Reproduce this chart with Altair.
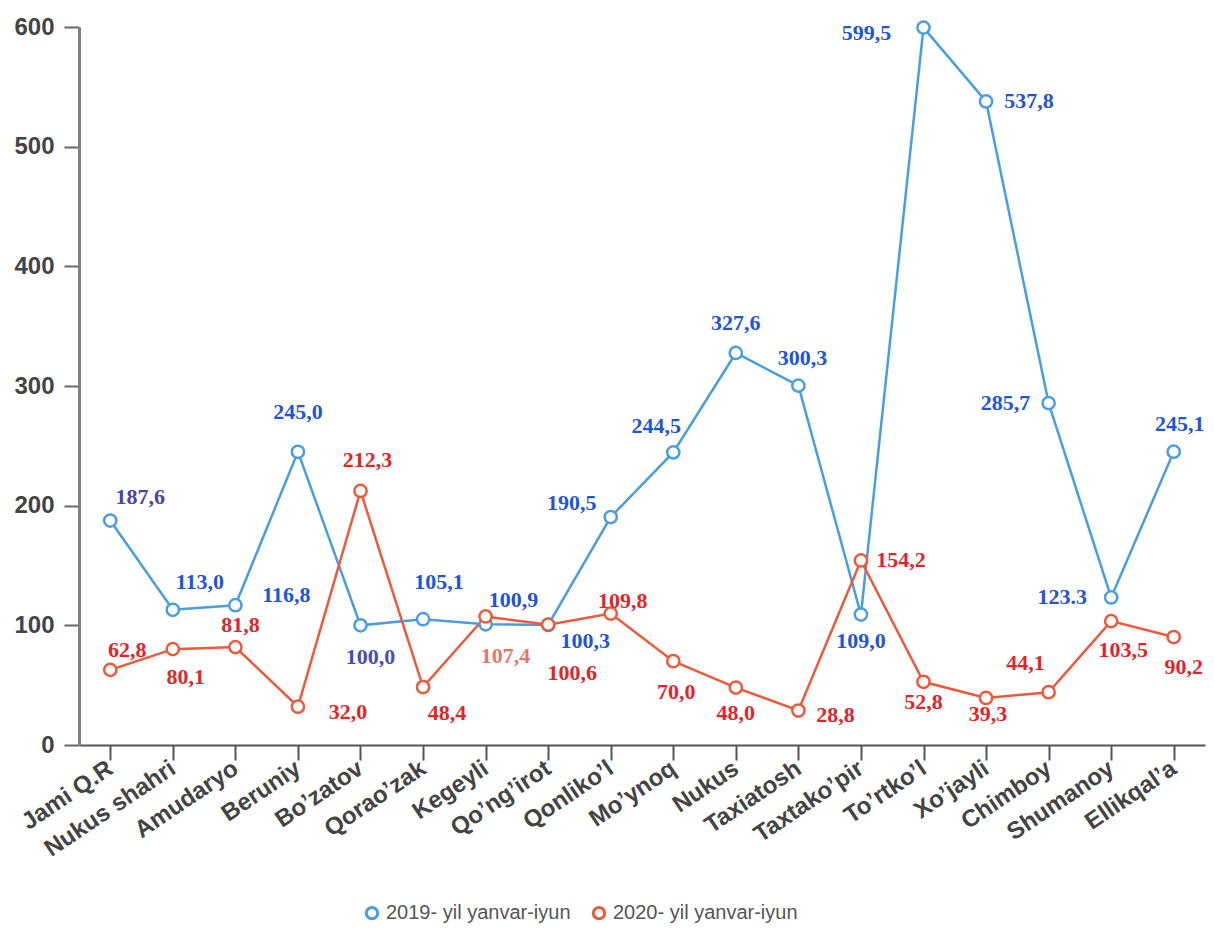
import altair as alt
import pandas as pd

categories = ["Jami Q.R", "Nukus shahri", "Amudaryo", "Beruniy", "Bo’zatov", "Qorao’zak",
              "Kegeyli", "Qo’ng’irot", "Qonliko’l", "Mo’ynoq", "Nukus", "Taxiatosh",
              "Taxtako’pir", "To’rtko’l", "Xo’jayli", "Chimboy", "Shumanoy", "Ellikqal’a"]
series_names = ["2019- yil yanvar-iyun", "2020- yil yanvar-iyun"]

values_2019 = [187.6, 113.0, 116.8, 245.0, 100.0, 105.1, 100.9, 100.3, 190.5, 244.5,
               327.6, 300.3, 109.0, 599.5, 537.8, 285.7, 123.3, 245.1]
values_2020 = [62.8, 80.1, 81.8, 32.0, 212.3, 48.4, 107.4, 100.6, 109.8, 70.0,
               48.0, 28.8, 154.2, 52.8, 39.3, 44.1, 103.5, 90.2]
labels_2019 = ["187,6", "113,0", "116,8", "245,0", "100,0", "105,1", "100,9", "100,3", "190,5",
               "244,5", "327,6", "300,3", "109,0", "599,5", "537,8", "285,7", "123.3", "245,1"]
labels_2020 = ["62,8", "80,1", "81,8", "32,0", "212,3", "48,4", "107,4", "100,6", "109,8",
               "70,0", "48,0", "28,8", "154,2", "52,8", "39,3", "44,1", "103,5", "90,2"]

# label placement (pixel offsets from the point) and colours -- styling only
off_2019 = [(30, -24), (27, -28), (51, -10), (0, -40), (10, 32), (16, -37), (28, -24), (37, 16),
            (-39, -14), (-17, -26), (0, -30), (4, -28), (0, 26), (-57, 5), (43, 0), (-43, 0),
            (-49, 0), (6, -28)]
off_2020 = [(17, -20), (13, 28), (5, -22), (50, 5), (7, -31), (24, 26), (20, 40), (24, 48),
            (12, -13), (3, 31), (0, 25), (37, 4), (40, 0), (0, 20), (2, 16), (-23, -29),
            (12, 29), (10, 30)]
BLUE = "#4a9ee0"
RED = "#ec5a3c"
LBL_BLUE = "#1f55d6"
LBL_RED = "#e0262a"
special_label_colors = {("2019", 0): "#4646a8", ("2019", 4): "#4650b0", ("2020", 6): "#e07a6a"}

rows = []
for i, c in enumerate(categories):
    rows.append({"category": c, "value": values_2019[i], "series": series_names[0],
                 "label": labels_2019[i], "idx": i, "s": "2019"})
for i, c in enumerate(categories):
    rows.append({"category": c, "value": values_2020[i], "series": series_names[1],
                 "label": labels_2020[i], "idx": i, "s": "2020"})
df = pd.DataFrame(rows)

x_enc = alt.X("category:N", sort=categories,
              scale=alt.Scale(type="point", padding=0.5),
              axis=alt.Axis(title=None, labelAngle=-34, labelAlign="right", labelBaseline="middle",
                            labelFontSize=24, labelFontWeight="bold", labelColor="#444444",
                            labelFont="Liberation Sans", labelPadding=6,
                            domainColor="#555555", domainWidth=2, tickColor="#555555",
                            tickWidth=2, tickSize=15, grid=False, labelOverlap=False))
y_enc = alt.Y("value:Q", scale=alt.Scale(domain=[0, 600], nice=False),
              axis=alt.Axis(title=None, values=[0, 100, 200, 300, 400, 500, 600],
                            labelFontSize=24, labelFontWeight="bold", labelColor="#444444",
                            labelFont="Liberation Sans", labelPadding=10,
                            domainColor="#808080", domainWidth=3, tickColor="#666666",
                            tickWidth=2, tickSize=15, grid=False))
color_enc = alt.Color("series:N", scale=alt.Scale(domain=series_names, range=[BLUE, RED]),
                      legend=alt.Legend(title=None, orient="none", legendX=283, legendY=876,
                                        direction="horizontal", symbolType="circle",
                                        symbolSize=130, symbolStrokeWidth=3,
                                        symbolFillColor="white", labelFontSize=20,
                                        labelColor="#555555", labelFont="Liberation Sans",
                                        columnPadding=16, labelLimit=400))

base = alt.Chart(df)
lines = base.mark_line(strokeWidth=2.5).encode(x=x_enc, y=y_enc, color=color_enc)
points = base.mark_point(shape="circle", filled=False, fill="white", size=150,
                         strokeWidth=2.5, opacity=1).encode(x=x_enc, y=y_enc, color=color_enc)

text_layers = []
for s, offs, col in (("2019", off_2019, LBL_BLUE), ("2020", off_2020, LBL_RED)):
    for i, (dx, dy) in enumerate(offs):
        c = special_label_colors.get((s, i), col)
        t = base.transform_filter(
            (alt.datum.s == s) & (alt.datum.idx == i)
        ).mark_text(dx=dx, dy=dy, align="center", baseline="middle",
                    font="Liberation Serif", fontWeight="bold", fontSize=22,
                    color=c).encode(x=x_enc, y=y_enc, text="label:N")
        text_layers.append(t)

chart = alt.layer(lines, points, *text_layers).properties(
    width=1126, height=718,
    autosize=alt.AutoSizeParams(type="none"),
    padding={"left": 71, "top": 19, "right": 1, "bottom": 184},
).configure_view(stroke=None)

chart.save("out.html", embed_options={"renderer": "svg", "actions": False})
